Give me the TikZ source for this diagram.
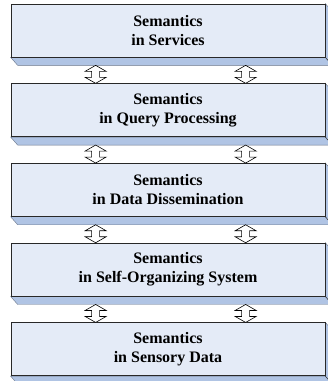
\documentclass[tikz,border=0pt]{standalone}
\usepackage{fontspec}
\setmainfont{Liberation Serif}
\usetikzlibrary{positioning,calc,backgrounds}
\definecolor{faceblue}{RGB}{228,235,247}
\definecolor{sideblue}{RGB}{176,196,228}
\definecolor{edgegray}{RGB}{40,40,40}

\begin{document}
\begin{tikzpicture}[x=1pt,y=-1pt]
	\tikzstyle{layer} = [ draw=edgegray, fill=faceblue, line width=0.7pt, minimum width=314pt, minimum height=53pt, inner sep=0pt, align=center, node distance=26pt, font={\bfseries\fontsize{16}{19}\selectfont} ];
	\tikzstyle{bevel} = [ draw=sideblue!60!black, fill=sideblue, line width=0.4pt ];
	\tikzstyle{updown} = [ draw=black, fill=white, line width=0.6pt, line join=miter ];

	\useasboundingbox (0,0) rectangle (328,381);

	\node[layer] (srv) at (168,30.5) {Semantics\\in Services};
	\node[layer, below=of srv] (qry) {Semantics\\in Query Processing};
	\node[layer, below=of qry] (dis) {Semantics\\in Data Dissemination};
	\node[layer, below=of dis] (sorg) {Semantics\\in Self-Organizing System};
	\node[layer, below=of sorg] (sens) {Semantics\\in Sensory Data};

	% bevel on bottom and right side
	\begin{scope}[on background layer]
		\foreach \n in {srv,qry,dis,sorg,sens} {
			\draw[bevel] (\n.south west) -- ++(7,8) -- ($(\n.south east)+(7,8)$)
				-- ($(\n.north east)+(7,8)$) -- (\n.north east) -- (\n.south east) -- cycle;
			\draw[edgegray, line width=0.5pt] (\n.south east) -- ++(7,8);
		}
	\end{scope}

	% hollow double arrows between layers
	\foreach \a/\b in {srv/qry, qry/dis, dis/sorg, sorg/sens} {
		\foreach \xo in {85,235} {
			\draw[updown] let \p1 = ($(\a.south west)+(\xo,8)$), \p2 = ($(\b.north west)+(\xo,0)$) in
				(\p1) -- (\x1+10.5pt,\y1-6pt) -- (\x1+4pt,\y1-6pt) -- (\x1+4pt,\y2+6pt)
				-- (\x1+10.5pt,\y2+6pt) -- (\p2) -- (\x1-10.5pt,\y2+6pt) -- (\x1-4pt,\y2+6pt)
				-- (\x1-4pt,\y1-6pt) -- (\x1-10.5pt,\y1-6pt) -- cycle;
		}
	}

\end{tikzpicture}
\end{document}
